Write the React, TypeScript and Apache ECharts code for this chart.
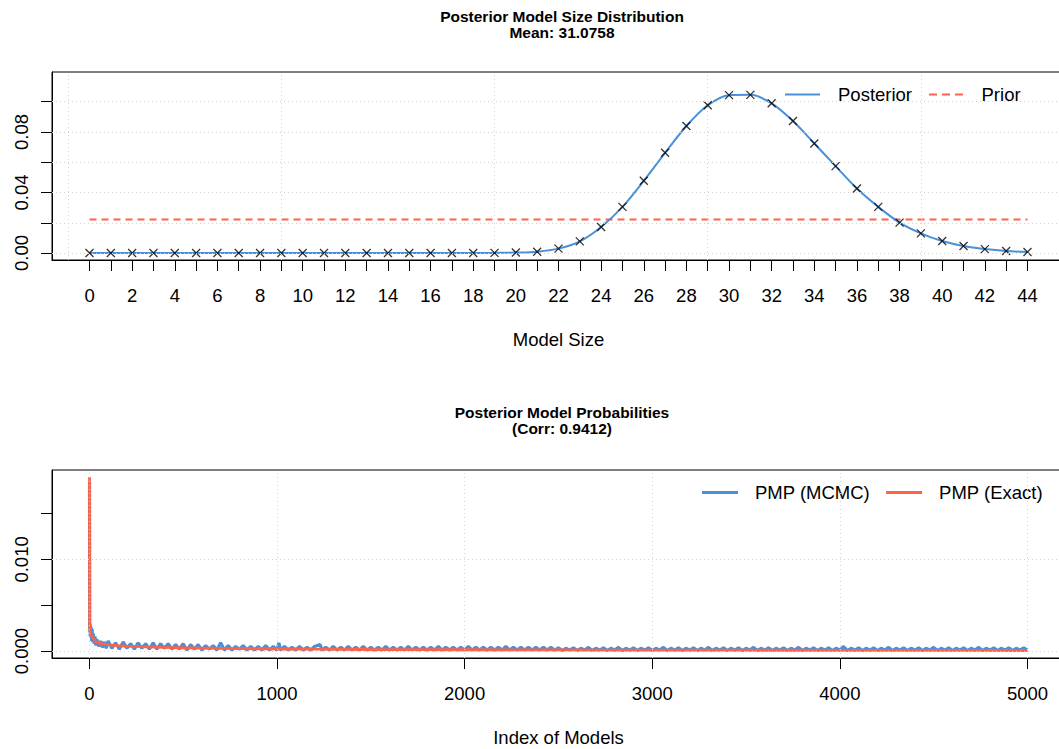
import { useEffect, useRef } from "react";
import * as echarts from "echarts";

// Posterior model size distribution (model sizes 0..44)
const modelSizes = [
  0, 1, 2, 3, 4, 5, 6, 7, 8, 9, 10, 11, 12, 13, 14, 15, 16, 17, 18, 19, 20, 21,
  22, 23, 24, 25, 26, 27, 28, 29, 30, 31, 32, 33, 34, 35, 36, 37, 38, 39, 40, 41,
  42, 43, 44,
];
const posteriorSize = [
  0, 0, 0, 0, 0, 0, 0, 0, 0, 0, 0, 0, 0, 0, 0, 0, 0, 0, 0, 0.0001, 0.0003,
  0.0009, 0.0029, 0.0077, 0.0172, 0.0305, 0.0477, 0.0662, 0.0839, 0.0976, 0.1043,
  0.1045, 0.0989, 0.0872, 0.0724, 0.0574, 0.0426, 0.0305, 0.0201, 0.013, 0.0079,
  0.0046, 0.0026, 0.0013, 0.0007,
];
const priorLevel = 0.0222;

const sizeTicks = modelSizes;
const sizeLabels = [0, 2, 4, 6, 8, 10, 12, 14, 16, 18, 20, 22, 24, 26, 28, 30, 32, 34, 36, 38, 40, 42, 44];
const sizeGridX = [-1, 9, 19, 29, 39];
const sizeGridY = [0, 0.02, 0.04, 0.06, 0.08, 0.1];
const sizeYLabels = [0, 0.04, 0.08];

// Posterior model probabilities, models ordered by exact PMP
const exactPoints: [number, number][] = [
  [1, 0.019], [2, 0.0027], [3, 0.0024], [5, 0.0021], [8, 0.0019], [12, 0.0017],
  [20, 0.0014], [30, 0.0011], [45, 0.00092], [70, 0.00078], [100, 0.00069],
  [150, 0.0006], [200, 0.00054], [300, 0.00046], [400, 0.0004], [500, 0.00036],
  [700, 0.00029], [900, 0.00025], [1200, 0.0002], [1500, 0.00017], [2000, 0.00014],
  [2500, 0.00012], [3000, 0.0001], [3500, 0.00009], [4000, 0.00008], [4500, 0.00007],
  [5000, 0.00006],
];
const mcmcPoints: [number, number][] = [
  [1, 0.0185], [2, 0.0029], [3, 0.0021], [4, 0.0027], [5, 0.0016], [6, 0.0029], [8, 0.0018],
  [10, 0.0026], [12, 0.0011], [15, 0.0024], [18, 0.001], [21, 0.0019], [25, 0.0008], [30, 0.0016],
  [35, 0.0006], [40, 0.0013], [50, 0.0005], [60, 0.0011], [70, 0.0004], [80, 0.001], [90, 0.0003],
  [100, 0.0011], [120, 0.0003], [140, 0.0009], [160, 0.0002], [180, 0.001], [200, 0.0003],
  [220, 0.0008], [240, 0.0002], [260, 0.0009], [280, 0.0003], [300, 0.0008], [320, 0.0002],
  [340, 0.0009], [360, 0.0002], [380, 0.0008], [400, 0.0003], [420, 0.0008], [440, 0.0002],
  [460, 0.0007], [480, 0.0002], [500, 0.0008], [520, 0.0001], [540, 0.0007], [560, 0.0002],
  [580, 0.0007], [600, 0.0001], [620, 0.0006], [640, 0.0002], [660, 0.0006], [680, 0.0001],
  [700, 0.0009], [720, 0.0001], [740, 0.0006], [760, 0.0001], [780, 0.0005], [800, 0.0002],
  [820, 0.0006], [840, 0.0001], [860, 0.0005], [880, 0.0001], [900, 0.0005], [920, 0.0001],
  [940, 0.0006], [960, 0.0001], [980, 0.0005], [1000, 0.0001], [1010, 0.0009], [1020, 0.0001],
  [1040, 0.0005], [1060, 0.0001], [1080, 0.0004], [1100, 0.0001], [1120, 0.0005], [1140, 0.0001],
  [1160, 0.0004], [1180, 0.0001], [1200, 0.0005], [1230, 0.0007], [1240, 0.0001], [1260, 0.0004],
  [1280, 0.0001], [1300, 0.0005], [1320, 0.0001], [1340, 0.0004], [1360, 0.0001], [1380, 0.0005],
  [1400, 0.0001], [1420, 0.0004], [1440, 0.0001], [1460, 0.0005], [1480, 0.0001], [1500, 0.0004],
  [1520, 0.0001], [1540, 0.0004], [1560, 0.0001], [1580, 0.0005], [1600, 0.0001], [1620, 0.0004],
  [1640, 0.0001], [1660, 0.0004], [1680, 0.0001], [1700, 0.0005], [1720, 0.0001], [1740, 0.0004],
  [1760, 0.0001], [1780, 0.0004], [1800, 0.0001], [1820, 0.0004], [1840, 0.0001], [1860, 0.0005],
  [1880, 0.0001], [1900, 0.0004], [1920, 0.0001], [1940, 0.0004], [1960, 0.0001], [1980, 0.0004],
  [2000, 0.0001], [2020, 0.0005], [2040, 0.0001], [2060, 0.0004], [2080, 0.0001], [2100, 0.0004],
  [2120, 0.0001], [2140, 0.0004], [2160, 0.0001], [2180, 0.0004], [2200, 0.0001], [2220, 0.0005],
  [2240, 0.0001], [2260, 0.0004], [2280, 0.0001], [2300, 0.0004], [2320, 0.0001], [2340, 0.0004],
  [2360, 0.0001], [2380, 0.0004], [2400, 0.0001], [2420, 0.0004], [2440, 0.0001], [2460, 0.0004],
  [2480, 0.0001], [2500, 0.00035], [2520, 0.00005], [2540, 0.0003], [2560, 0.0001], [2580, 0.00035],
  [2600, 0.00005], [2620, 0.0003], [2640, 0.0001], [2660, 0.0004], [2680, 0.00005], [2700, 0.0003],
  [2720, 0.0001], [2740, 0.00035], [2760, 0.00005], [2780, 0.0003], [2800, 0.0001], [2820, 0.0004],
  [2840, 0.00005], [2860, 0.0003], [2880, 0.0001], [2900, 0.00035], [2920, 0.00005], [2940, 0.0003],
  [2960, 0.0001], [2980, 0.00035], [3000, 0.00005], [3020, 0.0003], [3040, 0.0001], [3060, 0.0004],
  [3080, 0.00005], [3100, 0.0003], [3120, 0.0001], [3140, 0.00035], [3160, 0.00005], [3180, 0.0003],
  [3200, 0.0001], [3220, 0.00035], [3240, 0.00005], [3260, 0.0003], [3280, 0.0001], [3300, 0.0004],
  [3320, 0.00005], [3340, 0.0003], [3360, 0.0001], [3380, 0.00035], [3400, 0.00005], [3420, 0.0003],
  [3440, 0.0001], [3460, 0.00035], [3480, 0.00005], [3500, 0.0003], [3520, 0.0001], [3540, 0.0004],
  [3560, 0.00005], [3580, 0.0003], [3600, 0.0001], [3620, 0.00035], [3640, 0.00005], [3660, 0.0003],
  [3680, 0.0001], [3700, 0.00035], [3720, 0.00005], [3740, 0.0003], [3760, 0.0001], [3780, 0.0004],
  [3800, 0.00005], [3820, 0.0003], [3840, 0.0001], [3860, 0.00035], [3880, 0.00005], [3900, 0.0003],
  [3920, 0.0001], [3940, 0.00035], [3960, 0.00005], [3980, 0.0003], [4000, 0.0001], [4020, 0.0005],
  [4040, 0.00005], [4060, 0.0003], [4080, 0.0001], [4100, 0.00035], [4120, 0.00005], [4140, 0.0003],
  [4160, 0.0001], [4180, 0.00035], [4200, 0.00005], [4220, 0.0003], [4240, 0.0001], [4260, 0.0004],
  [4280, 0.00005], [4300, 0.0003], [4320, 0.0001], [4340, 0.00035], [4360, 0.00005], [4380, 0.0003],
  [4400, 0.0001], [4420, 0.00035], [4440, 0.00005], [4460, 0.0003], [4480, 0.0001], [4500, 0.0004],
  [4520, 0.00005], [4540, 0.0003], [4560, 0.0001], [4580, 0.00035], [4600, 0.00005], [4620, 0.0003],
  [4640, 0.0001], [4660, 0.00035], [4680, 0.00005], [4700, 0.0003], [4720, 0.0001], [4740, 0.0004],
  [4760, 0.00005], [4780, 0.0003], [4800, 0.0001], [4820, 0.00035], [4840, 0.00005], [4860, 0.0003],
  [4880, 0.0001], [4900, 0.00035], [4920, 0.00005], [4940, 0.0003], [4960, 0.0001], [4980, 0.00035],
  [5000, 0.0001],
];

const indexTicks = [0, 1000, 2000, 3000, 4000, 5000];
const pmpGridY = [0, 0.005, 0.01, 0.015];
const pmpYLabels = [0, 0.01];

const BLUE = "#4A90D9";
const RED = "#FF6347";
const FONT = "'Liberation Sans', Arial, Helvetica, sans-serif";
const GRID_LINE = { color: "#d3d3d3", width: 1, type: [1, 3] as number[] };

// Legend glyphs: a solid bar and a three-dash bar
const SOLID_ICON = "rect";
const DASHED_ICON = "path://M0,0h8v2h-8zM13,0h8v2h-8zM26,0h8v2h-8z";

function gridLines(xs: number[], ys: number[]) {
  return {
    silent: true,
    symbol: ["none", "none"],
    label: { show: false },
    lineStyle: GRID_LINE,
    emphasis: { disabled: true },
    data: [...xs.map((v) => ({ xAxis: v })), ...ys.map((v) => ({ yAxis: v }))],
  };
}

function xAxisBase(gridIndex: number, min: number, max: number, ticks: number[], labels: number[], name: string) {
  return {
    type: "value" as const,
    gridIndex,
    min,
    max,
    name,
    nameLocation: "middle" as const,
    nameGap: 70,
    nameTextStyle: { fontFamily: FONT, fontSize: 18.5, color: "#000" },
    axisLine: { show: true, onZero: false, lineStyle: { color: "#000", width: 1 } },
    axisTick: { show: true, length: 11, customValues: ticks, lineStyle: { color: "#000", width: 1 } },
    axisLabel: {
      show: true,
      customValues: labels,
      margin: 26,
      fontFamily: FONT,
      fontSize: 18.5,
      color: "#000",
      formatter: (v: number) => String(v),
    },
    splitLine: { show: false },
  };
}

function yAxisBase(gridIndex: number, min: number, max: number, ticks: number[], labels: number[], digits: number) {
  return {
    type: "value" as const,
    gridIndex,
    min,
    max,
    axisLine: { show: true, onZero: false, lineStyle: { color: "#000", width: 1 } },
    axisTick: { show: true, length: 11, customValues: ticks, lineStyle: { color: "#000", width: 1 } },
    axisLabel: {
      show: true,
      customValues: labels,
      rotate: 90,
      margin: 21,
      fontFamily: FONT,
      fontSize: 18.5,
      color: "#000",
      formatter: (v: number) => v.toFixed(digits),
    },
    splitLine: { show: false },
  };
}

export default function App() {
  const ref = useRef<HTMLDivElement>(null);

  useEffect(() => {
    if (!ref.current) return;
    const chart = echarts.init(ref.current, null, { renderer: "svg" });

    const titleStyle = { fontFamily: FONT, fontSize: 15.5, fontWeight: "bold", color: "#000", lineHeight: 16 };
    const legendText = { fontFamily: FONT, fontSize: 18.5, color: "#000", padding: [0, 0, 0, 13] };

    const option = {
      animation: false,
      backgroundColor: "#fff",
      title: [
        {
          text: "Posterior Model Size Distribution\nMean: 31.0758",
          left: 557,
          top: 3,
          textAlign: "center",
          textStyle: titleStyle,
        },
        {
          text: "Posterior Model Probabilities\n(Corr: 0.9412)",
          left: 557,
          top: 399,
          textAlign: "center",
          textStyle: titleStyle,
        },
      ],
      legend: [
        {
          data: [
            { name: "Posterior", icon: SOLID_ICON },
            { name: "Prior", icon: DASHED_ICON },
          ],
          left: 785,
          top: 85,
          padding: 0,
          itemWidth: 35,
          itemHeight: 2,
          itemGap: 17,
          textStyle: legendText,
        },
        {
          data: [
            { name: "PMP (MCMC)", icon: SOLID_ICON },
            { name: "PMP (Exact)", icon: SOLID_ICON },
          ],
          left: 702,
          top: 483,
          padding: 0,
          itemWidth: 36,
          itemHeight: 3,
          itemGap: 16,
          textStyle: { ...legendText, padding: [0, 0, 0, 12] },
        },
      ],
      grid: [
        { left: 52, top: 72, width: 1013, height: 188, show: true, borderColor: "#000", borderWidth: 1, backgroundColor: "transparent" },
        { left: 52, top: 470, width: 1013, height: 188, show: true, borderColor: "#000", borderWidth: 1, backgroundColor: "transparent" },
      ],
      xAxis: [
        xAxisBase(0, -1.76, 45.76, sizeTicks, sizeLabels, "Model Size"),
        xAxisBase(1, -198.96, 5199.96, indexTicks, indexTicks, "Index of Models"),
      ],
      yAxis: [
        yAxisBase(0, -0.0046, 0.1196, sizeGridY, sizeYLabels, 2),
        yAxisBase(1, -0.00076, 0.01976, pmpGridY, pmpYLabels, 3),
      ],
      series: [
        {
          name: "grid-top",
          type: "line",
          xAxisIndex: 0,
          yAxisIndex: 0,
          data: [],
          z: 0,
          markLine: gridLines(sizeGridX, sizeGridY),
        },
        {
          name: "grid-bottom",
          type: "line",
          xAxisIndex: 1,
          yAxisIndex: 1,
          data: [],
          z: 0,
          markLine: gridLines(indexTicks, pmpGridY),
        },
        {
          name: "Prior",
          type: "line",
          xAxisIndex: 0,
          yAxisIndex: 0,
          symbol: "none",
          data: [
            [modelSizes[0], priorLevel],
            [modelSizes[modelSizes.length - 1], priorLevel],
          ],
          lineStyle: { color: RED, width: 2, type: [7, 5] },
          itemStyle: { color: RED },
          z: 2,
        },
        {
          name: "Posterior",
          type: "line",
          xAxisIndex: 0,
          yAxisIndex: 0,
          symbol: "none",
          smooth: 0.3,
          data: modelSizes.map((s, i) => [s, posteriorSize[i]]),
          lineStyle: { color: BLUE, width: 2 },
          itemStyle: { color: BLUE },
          z: 3,
        },
        {
          name: "Posterior points",
          type: "scatter",
          xAxisIndex: 0,
          yAxisIndex: 0,
          symbol: "path://M0,0L10,10M10,0L0,10",
          symbolSize: 8,
          data: modelSizes.map((s, i) => [s, posteriorSize[i]]),
          itemStyle: { color: "transparent", borderColor: "#000", borderWidth: 1.3 },
          emphasis: { disabled: true },
          z: 4,
        },
        {
          name: "PMP (MCMC)",
          type: "line",
          xAxisIndex: 1,
          yAxisIndex: 1,
          symbol: "none",
          data: mcmcPoints,
          lineStyle: { color: BLUE, width: 3.2 },
          itemStyle: { color: BLUE },
          z: 2,
        },
        {
          name: "PMP (Exact)",
          type: "line",
          xAxisIndex: 1,
          yAxisIndex: 1,
          symbol: "none",
          smooth: 0.2,
          data: exactPoints,
          lineStyle: { color: RED, width: 2.8 },
          itemStyle: { color: RED },
          z: 3,
        },
      ],
    };

    chart.setOption(option as any);
    return () => chart.dispose();
  }, []);

  // The drawing area runs a little past the right edge of the window, so the
  // right side of each plot frame falls just outside the visible page.
  return (
    <div
      ref={ref}
      style={{ position: "fixed", left: 0, top: 0, width: 1072, height: 749, background: "#fff" }}
    />
  );
}
